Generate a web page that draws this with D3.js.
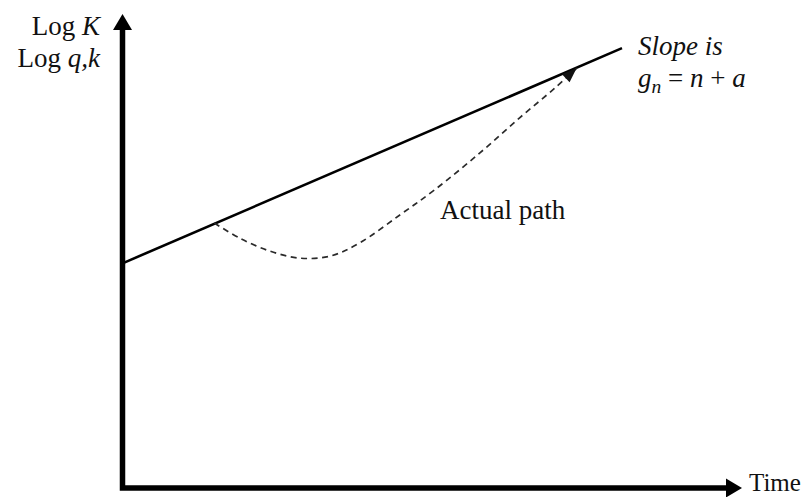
<!DOCTYPE html>
<html>
<head>
<meta charset="utf-8">
<script src="https://cdn.jsdelivr.net/npm/d3@7"></script>
<style>
  html, body { margin: 0; padding: 0; background: #fff; }
  svg { display: block; }
  text { font-family: "Liberation Serif", "Times New Roman", serif; fill: #111; }
</style>
</head>
<body>
<svg id="chart" width="809" height="497"></svg>
<script>
// Balanced-growth trend (solid) in log units against time
const trendTime = [0, 80.5];
const trendLog  = [47.4, 92.8];

// Actual adjustment path (dashed): dips below the trend, then catches up
const pathTime = [14.8, 18.9, 23.7, 28.5, 33.4, 38.2, 44.7, 50.3, 57.6, 64.0, 69.7, 73.2];
const pathLog  = [55.9, 52.7, 50.0, 48.5, 48.9, 51.7, 57.6, 62.9, 70.7, 78.1, 84.4, 88.6];

// Axis extents (data units) and text
const timeExtent = [0, 100];
const logExtent  = [0, 100];
const xAxisLabel = "Time";
const yAxisLabels = [
  [{ t: "Log ", i: false }, { t: "K", i: true }],
  [{ t: "Log ", i: false }, { t: "q,k", i: true }]
];
const slopeLabel = [
  [{ t: "Slope is", i: true }],
  [{ t: "g", i: true }, { t: "n", i: true, sub: true }, { t: " = ", i: false, up: true }, { t: "n", i: true }, { t: " + ", i: false }, { t: "a", i: true }]
];
const pathLabel = "Actual path";

const svg = d3.select("#chart");

const x = d3.scaleLinear().domain(timeExtent).range([122.5, 743]);
const y = d3.scaleLinear().domain(logExtent).range([488, 14]);

const FS = 27;

// Axes: one L-shaped stroke with filled arrowheads
const axisW = 5.5;
const x0 = x(timeExtent[0]), y0 = y(logExtent[0]);
const xTip = x(timeExtent[1]) - 1, yTip = y(logExtent[1]);
const headLen = 16, headHalf = 9.5;

svg.append("path")
  .attr("d", `M${x0},${yTip + headLen - 1} V${y0} H${xTip - headLen + 1}`)
  .attr("fill", "none")
  .attr("stroke", "#000")
  .attr("stroke-width", axisW)
  .attr("stroke-linejoin", "miter")
  .attr("stroke-linecap", "butt");

svg.append("path")
  .attr("d", `M${x0},${yTip} L${x0 - headHalf},${yTip + headLen} L${x0 + headHalf},${yTip + headLen} Z`)
  .attr("fill", "#000");

svg.append("path")
  .attr("d", `M${xTip},${y0} L${xTip - headLen},${y0 - headHalf} L${xTip - headLen},${y0 + headHalf} Z`)
  .attr("fill", "#000");

// Arrowhead for the dashed path
const defs = svg.append("defs");
defs.append("marker")
  .attr("id", "pathHead")
  .attr("viewBox", "-16 -7 17 14")
  .attr("refX", 0).attr("refY", 0)
  .attr("markerWidth", 17).attr("markerHeight", 14)
  .attr("markerUnits", "userSpaceOnUse")
  .attr("orient", "auto")
  .append("path")
  .attr("d", "M0,0 L-15,-5.5 L-15,5.5 Z")
  .attr("fill", "#111")
  .attr("stroke", "none");

// Trend line
const trend = trendTime.map((t, i) => [t, trendLog[i]]);
svg.append("path")
  .datum(trend)
  .attr("d", d3.line().x(d => x(d[0])).y(d => y(d[1])))
  .attr("fill", "none")
  .attr("stroke", "#000")
  .attr("stroke-width", 2.6);

// Actual path
const actual = pathTime.map((t, i) => [t, pathLog[i]]);
svg.append("path")
  .datum(actual)
  .attr("d", d3.line().x(d => x(d[0])).y(d => y(d[1])).curve(d3.curveCatmullRom.alpha(0.5)))
  .attr("fill", "none")
  .attr("stroke", "#2a2a2a")
  .attr("stroke-width", 1.7)
  .attr("stroke-dasharray", "6,4.5")
  .attr("marker-end", "url(#pathHead)");

// Rich text helper (italic runs and subscripts)
function richText(g, lines, xPos, yPos, lineH, anchor) {
  lines.forEach((runs, li) => {
    const tx = g.append("text")
      .attr("x", xPos)
      .attr("y", yPos + li * lineH)
      .attr("font-size", FS)
      .attr("text-anchor", anchor);
    runs.forEach(r => {
      const s = tx.append("tspan")
        .text(r.t)
        .attr("font-style", r.i ? "italic" : "normal");
      if (r.sub) s.attr("font-size", FS * 0.72).attr("dy", 6);
      if (r.up) s.attr("dy", -6);
    });
  });
}

const labels = svg.append("g");
richText(labels, yAxisLabels, 100, 35, 32, "end");
richText(labels, slopeLabel, 638, 55, 32, "start");

labels.append("text")
  .attr("x", 440).attr("y", 219)
  .attr("font-size", FS)
  .text(pathLabel);

labels.append("text")
  .attr("x", 749).attr("y", 491)
  .attr("font-size", 25)
  .text(xAxisLabel);
</script>
</body>
</html>
